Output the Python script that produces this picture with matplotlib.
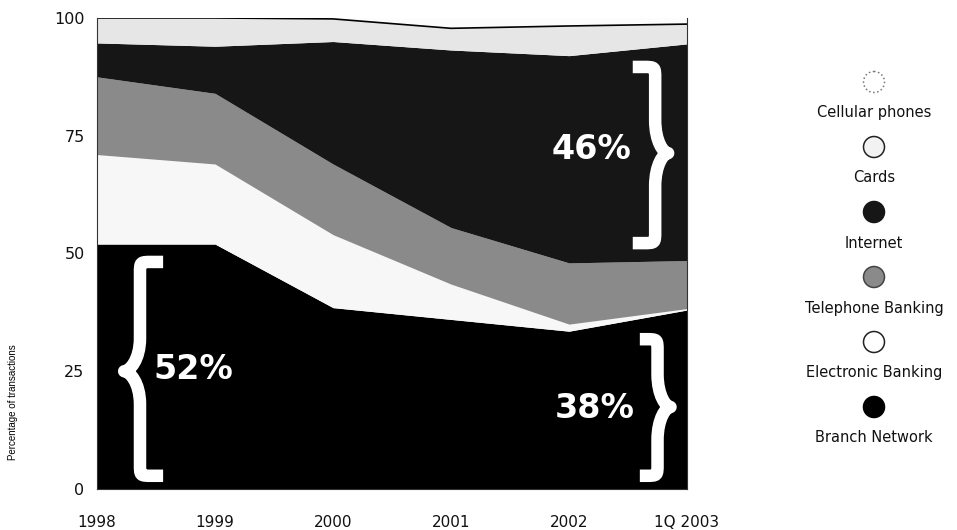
import numpy as np
import matplotlib
matplotlib.use('Agg')
import matplotlib.pyplot as plt
from matplotlib.path import Path
from matplotlib.patches import PathPatch, Circle

# share of transactions by channel, bottom layer first
periods = ['1998', '1999', '2000', '2001', '2002', '1Q 2003']
branch_network = [52, 52, 38.5, 36, 33.5, 38]
electronic_banking = [19, 17, 15.5, 7.5, 1.5, 0.3]
telephone_banking = [16.5, 15, 15, 12, 13, 10.2]
internet = [7.2, 10, 26, 37.7, 44, 46]
cards = [5.3, 6, 4.8, 4.6, 6.3, 4.2]
cellular_phones = [0, 0, 0.2, 2.2, 1.7, 1.3]

labels = ['Branch Network', 'Electronic Banking', 'Telephone Banking',
          'Internet', 'Cards', 'Cellular phones']
colors = ['#000000', '#f7f7f7', '#8a8a8a', '#161616', '#e6e6e6', '#fcfcfc']
yticks = [0, 25, 50, 75, 100]

series = [branch_network, electronic_banking, telephone_banking,
          internet, cards, cellular_phones]

fig = plt.figure(figsize=(9.57, 5.30), dpi=100)
ax = fig.add_axes([0.1014, 0.0774, 0.6165, 0.8887])

x = np.arange(len(periods))
base = np.zeros(len(periods))
for vals, col in zip(series, colors):
    top = base + np.array(vals)
    ax.fill_between(x, base, top, color=col, linewidth=0)
    base = top

# thin rule along the top of the cards band
cards_top = np.sum(series[:5], axis=0)
ax.plot(x, cards_top, color='black', lw=1.2)

ax.set_xlim(0, len(periods) - 1)
ax.set_ylim(0, 100)
ax.set_xticks(x)
ax.set_xticklabels(periods, fontsize=11, color='#111111')
ax.set_yticks(yticks)
ax.set_yticklabels([str(t) for t in yticks], fontsize=11.5, color='#111111')
ax.tick_params(axis='x', length=0, pad=19)
ax.tick_params(axis='y', length=0, pad=9)
ax.spines['top'].set_visible(False)
for s in ['left', 'bottom', 'right']:
    ax.spines[s].set_linewidth(0.8)
    ax.spines[s].set_color('#333333')

fig.text(13 / 957, 1 - 402 / 530, 'Percentage of transactions', rotation=90,
         ha='center', va='center', fontsize=7, family='Liberation Sans')


def brace(ax, x_tip, x_stem, x_end, y0, y1, y_mid, rx=0.1, ry=2.5, rt=7):
    """Curly brace drawn as a thick white stroke in data coords."""
    sgn = 1 if x_end > x_stem else -1
    k = (x_stem - x_tip) * 0.35
    verts = [
        (x_end, y1), (x_stem + sgn * rx, y1),
        (x_stem, y1), (x_stem, y1), (x_stem, y1 - ry),
        (x_stem, y_mid + rt),
        (x_stem, y_mid + rt * 0.35), (x_tip + k, y_mid), (x_tip, y_mid),
        (x_tip + k, y_mid), (x_stem, y_mid - rt * 0.35), (x_stem, y_mid - rt),
        (x_stem, y0 + ry),
        (x_stem, y0), (x_stem, y0), (x_stem + sgn * rx, y0),
        (x_end, y0),
    ]
    codes = [Path.MOVETO, Path.LINETO,
             Path.CURVE4, Path.CURVE4, Path.CURVE4,
             Path.LINETO,
             Path.CURVE4, Path.CURVE4, Path.CURVE4,
             Path.CURVE4, Path.CURVE4, Path.CURVE4,
             Path.LINETO,
             Path.CURVE4, Path.CURVE4, Path.CURVE4,
             Path.LINETO]
    p = PathPatch(Path(verts, codes), facecolor='none', edgecolor='white',
                  lw=9, capstyle='butt', joinstyle='round', zorder=5)
    ax.add_patch(p)


brace(ax, 0.23, 0.364, 0.56, 2.8, 48.2, 25)
brace(ax, 4.84, 4.73, 4.54, 52.2, 89.6, 71.3)
brace(ax, 4.86, 4.75, 4.60, 2.8, 31.8, 17.4)

bold = dict(color='white', fontsize=24, fontweight='bold', ha='center',
            va='center', family='DejaVu Sans', zorder=6)
ax.text(0.82, 25.3, '52%', **bold)
ax.text(4.19, 72, '46%', **bold)
ax.text(4.22, 17, '38%', **bold)

# legend column on the right, top entry is the top layer
lax = fig.add_axes([0, 0, 1, 1], zorder=-1)
lax.set_xlim(0, 957)
lax.set_ylim(530, 0)
lax.axis('off')

edge_styles = [
    dict(fc='#000000', ec='#000000', ls='-'),
    dict(fc='white', ec='#222222', ls='-'),
    dict(fc='#8a8a8a', ec='#444444', ls='-'),
    dict(fc='#161616', ec='#161616', ls='-'),
    dict(fc='#f2f2f2', ec='#222222', ls='-'),
    dict(fc='white', ec='#777777', ls=':'),
]
cx = 874
for i, (lab, st) in enumerate(reversed(list(zip(labels, edge_styles)))):
    my = 82 + 65 * i
    lax.add_patch(Circle((cx, my), 10.5, facecolor=st['fc'],
                         edgecolor=st['ec'], linestyle=st['ls'], lw=1.1))
    lax.text(cx, my + 31, lab, ha='center', va='center', fontsize=10.5,
             color='#111111')

fig.savefig('out.png', dpi=100)
